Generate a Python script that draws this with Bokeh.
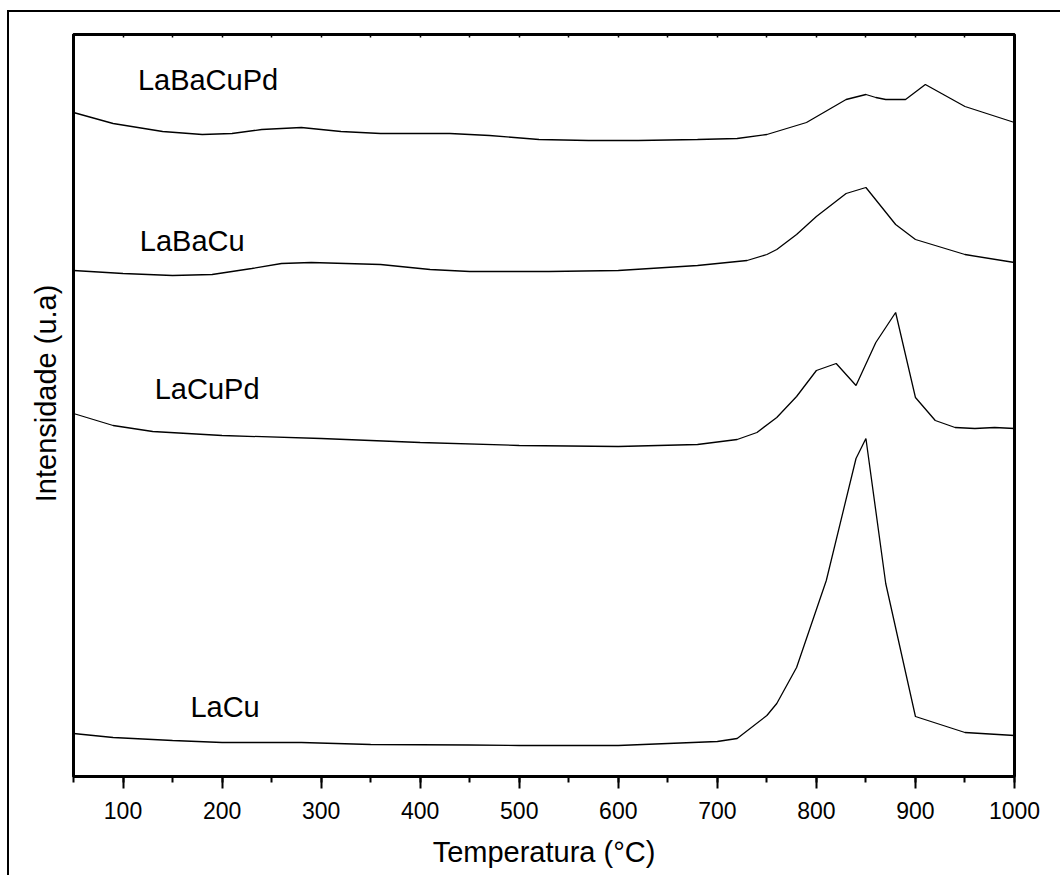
from bokeh.plotting import figure
from bokeh.models import Range1d, LinearAxis, SingleIntervalTicker, FixedTicker
from bokeh.core.properties import value
from bokeh.embed import file_html
from bokeh.resources import INLINE

# ---- data (temperature in °C, intensity in arbitrary units) ----
temp_lacu = [50, 90, 150, 200, 280, 350, 450, 500, 600, 650, 700, 720, 750, 760,
             780, 810, 840, 850, 870, 900, 950, 1000]
int_lacu = [43, 39, 36, 34, 34, 32, 31.5, 31, 31, 33, 35, 38, 61, 73,
            109, 196, 318, 338, 193, 60, 44, 41]

temp_lacupd = [50, 90, 130, 200, 300, 400, 500, 600, 680, 720, 740, 760, 780, 800,
               820, 840, 860, 880, 900, 920, 940, 960, 980, 1000]
int_lacupd = [363, 351, 345, 341, 338, 334, 331, 330, 332, 337, 344, 359, 380, 406,
              413, 391, 434, 464, 379, 356, 349, 348, 349, 348]

temp_labacu = [50, 100, 150, 190, 230, 260, 290, 360, 410, 450, 530, 600, 680, 730,
               750, 760, 780, 800, 830, 850, 880, 900, 950, 1000]
int_labacu = [506, 503, 501, 502, 508, 513, 514, 512, 507, 505, 505, 506, 511, 516,
              522, 527, 542, 560, 583, 589, 552, 537, 522, 514]

temp_labacupd = [50, 90, 140, 180, 210, 240, 280, 320, 360, 430, 470, 520, 570, 620,
                 680, 720, 750, 790, 830, 850, 860, 870, 890, 910, 950, 1000]
int_labacupd = [664, 653, 645, 642, 643, 647, 649, 645, 643, 643, 641, 637, 636, 636,
                637, 638, 642, 654, 677, 682, 679, 677, 677, 692, 670, 654]

series_names = ["LaCu", "LaCuPd", "LaBaCu", "LaBaCuPd"]
x_tick_labels = ["100", "200", "300", "400", "500", "600", "700", "800", "900", "1000"]

# label anchor points (x in °C, y in a.u.)
label_x = [168, 132, 117, 115]
label_y = [70, 388, 536, 697]

FONT = "Liberation Sans"

p = figure(width=1053, height=865, output_backend="svg", toolbar_location=None,
           x_range=Range1d(50, 1000), y_range=Range1d(0, 742),
           min_border_left=64, min_border_right=48, min_border_top=22,
           min_border_bottom=101, x_axis_location="below")
p.styles = {"margin-top": "12px", "margin-left": "9px",
            "box-shadow": "-2px -2px 0 0 black"}

p.grid.visible = False
p.outline_line_color = "black"
p.outline_line_width = 3
p.background_fill_color = "white"
p.border_fill_color = "white"

# bottom axis
xa = p.xaxis[0]
xa.ticker = SingleIntervalTicker(interval=100, num_minor_ticks=2)
xa.major_label_overrides = {int(t): t for t in x_tick_labels}
xa.axis_line_width = 3
xa.major_tick_line_width = 2
xa.minor_tick_line_width = 2
xa.major_tick_out = 12
xa.major_tick_in = 0
xa.minor_tick_out = 6
xa.minor_tick_in = 0
xa.major_label_text_font = FONT
xa.major_label_text_font_size = "23px"
xa.major_label_text_color = "black"
xa.major_label_standoff = 13
xa.axis_label = "Temperatura (°C)"
xa.axis_label_text_font = FONT
xa.axis_label_text_font_size = "29px"
xa.axis_label_text_font_style = "normal"
xa.axis_label_text_color = "black"
xa.axis_label_standoff = 14

# left axis: no ticks
ya = p.yaxis[0]
ya.ticker = FixedTicker(ticks=[])
ya.axis_line_width = 3
ya.major_tick_line_color = None
ya.minor_tick_line_color = None
ya.axis_label = "\u00a0\u00a0\u00a0Intensidade (u.a)"
ya.axis_label_text_font = FONT
ya.axis_label_text_font_size = "29px"
ya.axis_label_text_font_style = "normal"
ya.axis_label_text_color = "black"
ya.axis_label_standoff = 12

# top axis: tiny inward ticks, no labels
ta = LinearAxis(ticker=SingleIntervalTicker(interval=50, num_minor_ticks=0))
ta.axis_line_width = 3
ta.major_tick_in = 3
ta.major_tick_out = 0
ta.major_tick_line_width = 1.5
ta.minor_tick_line_color = None
ta.major_label_text_color = None
ta.major_label_standoff = 0
p.add_layout(ta, "above")

# curves
for tx, iy in [(temp_lacu, int_lacu), (temp_lacupd, int_lacupd),
               (temp_labacu, int_labacu), (temp_labacupd, int_labacupd)]:
    p.line(tx, iy, line_color="black", line_width=1.3)

# series labels
p.text(x=label_x, y=label_y, text=series_names, text_font=value(FONT),
       text_font_size="29px", text_color="black", text_align="left",
       text_baseline="alphabetic")

open("out.html", "w").write(file_html(p, INLINE))
